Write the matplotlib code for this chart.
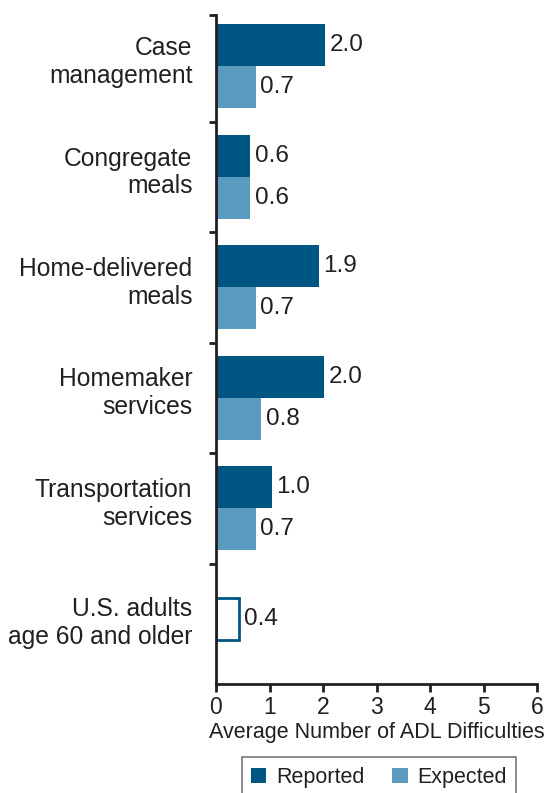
import matplotlib
matplotlib.use("Agg")
import matplotlib.pyplot as plt
from matplotlib.patches import Patch

categories = ["Case\nmanagement", "Congregate\nmeals", "Home-delivered\nmeals",
              "Homemaker\nservices", "Transportation\nservices", "U.S. adults\nage 60 and older"]
reported = [2.04, 0.63, 1.92, 2.01, 1.04]
expected = [0.74, 0.63, 0.74, 0.84, 0.74]
baseline_value = 0.43
reported_labels = ["2.0", "0.6", "1.9", "2.0", "1.0"]
expected_labels = ["0.7", "0.6", "0.7", "0.8", "0.7"]
baseline_label = "0.4"
xticks = [0, 1, 2, 3, 4, 5, 6]
xlabel = "Average Number of ADL Difficulties"
legend_labels = ["Reported", "Expected"]

c_rep = "#005683"
c_exp = "#5b9bbf"
txt = "#231f20"

plt.rcParams['font.family'] = ['Liberation Sans', 'DejaVu Sans']

W, H = 545, 793
fig = plt.figure(figsize=(W / 100, H / 100), dpi=100)
ax = fig.add_axes([216 / W, 1 - 684 / H, (537 - 216) / W, (684 - 15) / H])

bh = 0.38
n = len(reported)
vfs = 17.5
for i in range(n):
    ax.barh(i - bh / 2, reported[i], height=bh, color=c_rep, linewidth=0)
    ax.barh(i + bh / 2, expected[i], height=bh, color=c_exp, linewidth=0)
    ax.text(reported[i] + 0.09, i - bh / 2, reported_labels[i], va='center', ha='left',
            fontsize=vfs, color=txt)
    ax.text(expected[i] + 0.09, i + bh / 2, expected_labels[i], va='center', ha='left',
            fontsize=vfs, color=txt)
ax.barh(n, baseline_value, height=bh, facecolor='white', edgecolor=c_rep, linewidth=2)
ax.text(baseline_value + 0.09, n, baseline_label, va='center', ha='left', fontsize=vfs, color=txt)

ax.set_xlim(0, 6)
ax.set_ylim(5.59, -0.465)
ax.set_xticks(xticks)
ax.set_xticklabels([str(t) for t in xticks], fontsize=16.5, color=txt)
label_pos = [y - 0.08 for y in range(n)] + [n]
ax.set_yticks(label_pos)
ax.set_yticklabels(categories, fontsize=17.7, color=txt, linespacing=1.2)
ax.set_yticks([-0.465, 0.5, 1.5, 2.5, 3.5, 4.5], minor=True)
ax.tick_params(axis='y', which='major', length=0, pad=17)
ax.tick_params(axis='y', which='minor', length=5, width=2, color='#231f20', direction='out')
ax.tick_params(axis='x', which='major', length=6, width=2, color='#231f20', direction='out', pad=3)
for s in ['top', 'right']:
    ax.spines[s].set_visible(False)
for s in ['left', 'bottom']:
    ax.spines[s].set_linewidth(2)
    ax.spines[s].set_color('#231f20')
ax.set_xlabel(xlabel, fontsize=15.5, color=txt, labelpad=2)

handles = [Patch(facecolor=c_rep), Patch(facecolor=c_exp)]
leg = fig.legend(handles, legend_labels, loc='upper center', bbox_to_anchor=(379 / W, 1 - 757 / H),
                 ncol=2, fontsize=15.5, frameon=True, fancybox=False, edgecolor='#555555',
                 handlelength=0.7, handleheight=0.7, handletextpad=0.45, columnspacing=1.3,
                 borderpad=0.45, borderaxespad=0)
leg.get_frame().set_linewidth(1.2)
for t in leg.get_texts():
    t.set_color(txt)

fig.savefig("out.png", dpi=100)
